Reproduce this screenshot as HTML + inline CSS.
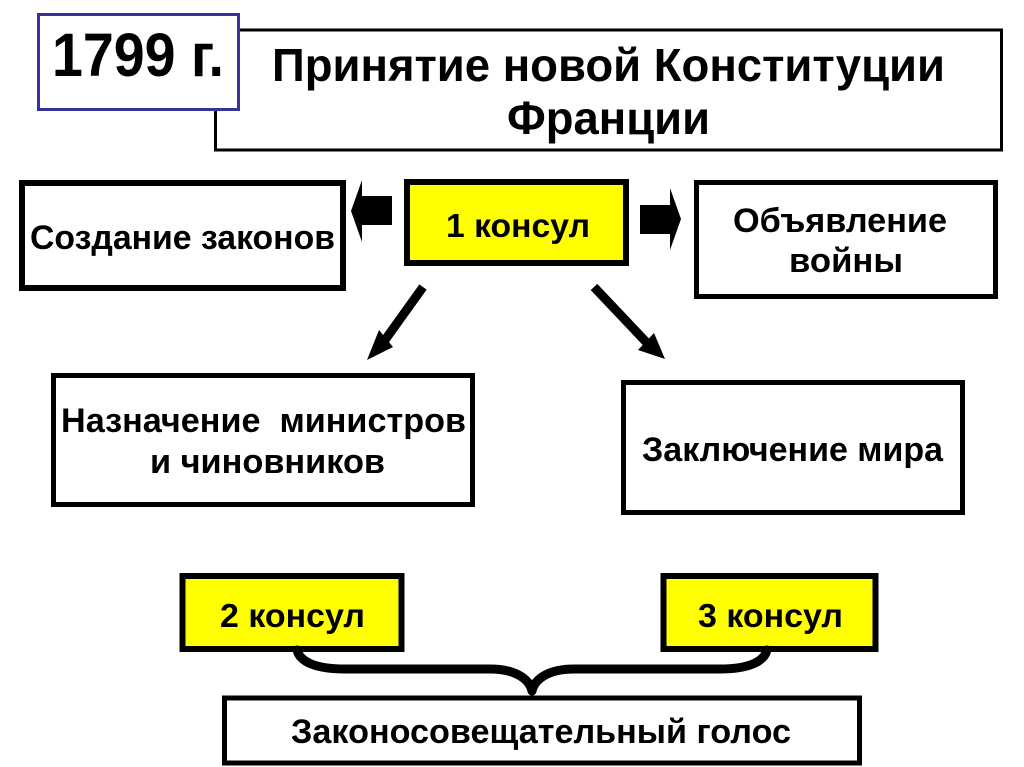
<!DOCTYPE html>
<html lang="ru">
<head>
<meta charset="utf-8">
<title>1799 г.</title>
<style>
html,body{margin:0;padding:0;background:#fff;width:1024px;height:767px;overflow:hidden}
svg{display:block}
text{font-family:"Liberation Sans",sans-serif;font-weight:bold;fill:#000}
</style>
</head>
<body>
<svg width="1024" height="767" viewBox="0 0 1024 767" xmlns="http://www.w3.org/2000/svg">
<rect width="1024" height="767" fill="#fff"/>
<!-- title -->
<rect x="215.5" y="30" width="786" height="120" fill="#fff" stroke="#000" stroke-width="3"/>
<rect x="38.5" y="14.5" width="200" height="95" fill="#fff" stroke="#333399" stroke-width="3"/>
<text x="52" y="76" font-size="61" textLength="172" lengthAdjust="spacingAndGlyphs">1799 г.</text>
<text x="272" y="81" font-size="46" textLength="673" lengthAdjust="spacingAndGlyphs">Принятие новой Конституции</text>
<text x="507" y="134" font-size="46" textLength="203" lengthAdjust="spacingAndGlyphs">Франции</text>
<!-- boxes -->
<rect x="22" y="183" width="321" height="105" fill="#fff" stroke="#000" stroke-width="6"/>
<text x="30" y="249" font-size="34" textLength="305" lengthAdjust="spacingAndGlyphs">Создание законов</text>
<rect x="407" y="182" width="219" height="81" fill="#ffff00" stroke="#000" stroke-width="6"/>
<text x="446" y="237" font-size="33" textLength="144" lengthAdjust="spacingAndGlyphs">1 консул</text>
<rect x="696.5" y="182.5" width="299" height="114" fill="#fff" stroke="#000" stroke-width="5"/>
<text x="733" y="232" font-size="34" textLength="214" lengthAdjust="spacingAndGlyphs">Объявление</text>
<text x="789" y="272" font-size="34" textLength="114" lengthAdjust="spacingAndGlyphs">войны</text>
<rect x="53.5" y="375.5" width="419" height="129" fill="#fff" stroke="#000" stroke-width="5"/>
<text x="61" y="432" font-size="34" textLength="405" lengthAdjust="spacingAndGlyphs" xml:space="preserve">Назначение  министров</text>
<text x="150" y="473" font-size="34" textLength="235" lengthAdjust="spacingAndGlyphs">и чиновников</text>
<rect x="623.5" y="382.5" width="339" height="130" fill="#fff" stroke="#000" stroke-width="5"/>
<text x="642" y="461" font-size="34" textLength="301" lengthAdjust="spacingAndGlyphs">Заключение мира</text>
<rect x="182.5" y="576" width="219" height="73" fill="#ffff00" stroke="#000" stroke-width="6"/>
<text x="220" y="627" font-size="33" textLength="145" lengthAdjust="spacingAndGlyphs">2 консул</text>
<rect x="663.5" y="576" width="212" height="73" fill="#ffff00" stroke="#000" stroke-width="6"/>
<text x="698" y="627" font-size="33" textLength="145" lengthAdjust="spacingAndGlyphs">3 консул</text>
<rect x="224.5" y="698" width="635" height="65" fill="#fff" stroke="#000" stroke-width="5"/>
<text x="291" y="743" font-size="34" textLength="500" lengthAdjust="spacingAndGlyphs">Законосовещательный голос</text>
<!-- block arrows -->
<polygon points="392,196 362,196 362,180 351,211 362,242 362,225 392,225" fill="#000"/>
<polygon points="640,205 670,205 670,188 681,219 670,250 670,234 640,234" fill="#000"/>
<!-- diagonal arrows -->
<line x1="423" y1="287" x2="385" y2="340" stroke="#000" stroke-width="9"/>
<polygon points="367,360 379,330 393,347" fill="#000"/>
<line x1="594" y1="287" x2="648" y2="344" stroke="#000" stroke-width="9"/>
<polygon points="665,359 654,333 638,350" fill="#000"/>
<!-- brace -->
<path d="M297,650 C300,662 316,669 345,669 L490,669 C514,669 529,678 532,691 C535,678 550,669 574,669 L720,669 C748,669 764,662 767,650" fill="none" stroke="#000" stroke-width="9" stroke-linecap="round" stroke-linejoin="round"/>
</svg>
</body>
</html>
